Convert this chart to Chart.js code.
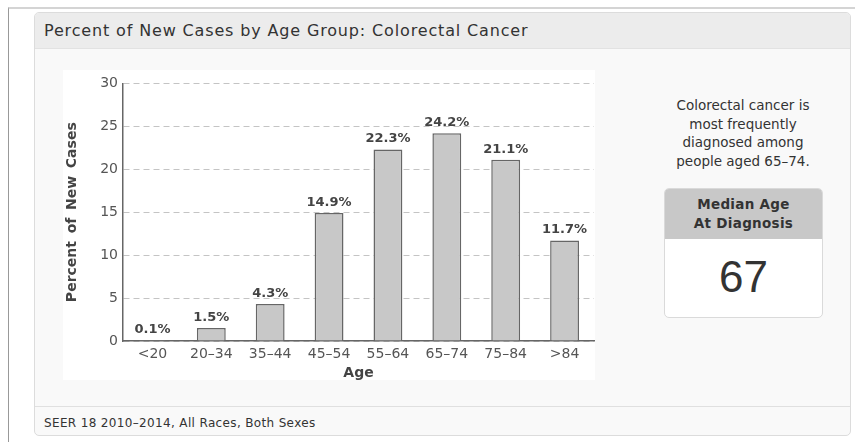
<!DOCTYPE html>
<html>
<head>
<meta charset="utf-8">
<script src="https://cdn.jsdelivr.net/npm/chart.js@4"></script>
<style>
  html, body { margin: 0; padding: 0; background: #fff; width: 855px; height: 442px; overflow: hidden; }
  body { position: relative; font-family: "DejaVu Sans", sans-serif; color: #333; }
  .frame { position: absolute; left: 8px; top: 7px; width: 860px; height: 460px;
    border-top: 2px solid #d4d4d4; border-left: 1px solid #999; }
  .panel { position: absolute; left: 34px; top: 12px; width: 815px; height: 422px;
    border: 1px solid #dcdcdc; border-radius: 5px; background: #f9f9f9; overflow: hidden; }
  .head { position: absolute; left: 0; top: 0; right: 0; height: 35px; background: #ececec;
    border-bottom: 1px solid #e2e2e2; }
  .head span { position: absolute; left: 9px; top: 8px; font-size: 16px; letter-spacing: 0.85px; color: #333; }
  .foot { position: absolute; left: 0; right: 0; top: 393px; bottom: 0; border-top: 1px solid #e0e0e0; }
  .foot span { position: absolute; left: 9px; top: 9px; font-size: 12px; letter-spacing: 0.35px; color: #333; }
  .chartbox { position: absolute; left: 63px; top: 70px; width: 532px; height: 310px; background: #fff; }
  .note { position: absolute; left: 660px; top: 96px; width: 166px; text-align: center;
    font-size: 13.5px; line-height: 18.5px; color: #333; }
  .median { position: absolute; left: 664px; top: 188px; width: 157px; height: 128px;
    border: 1px solid #dadada; border-radius: 5px; background: #fff; overflow: hidden; }
  .median .mh { height: 50px; background: #c8c8c8; text-align: center; font-weight: bold;
    font-size: 13.5px; line-height: 19px; color: #333; padding-top: 6px; box-sizing: border-box;
    letter-spacing: 0.3px; }
  .median .mv { text-align: center; font-family: "Liberation Sans", sans-serif; font-size: 44px;
    line-height: 76px; color: #333; }
</style>
</head>
<body>
<div class="frame"></div>
<div class="panel">
  <div class="head"><span>Percent of New Cases by Age Group: Colorectal Cancer</span></div>
  <div class="foot"><span>SEER 18 2010–2014, All Races, Both Sexes</span></div>
</div>
<div class="chartbox"><canvas id="c"></canvas></div>
<div class="note">Colorectal cancer is<br>most frequently<br>diagnosed among<br>people aged 65–74.</div>
<div class="median">
  <div class="mh">Median Age<br>At Diagnosis</div>
  <div class="mv">67</div>
</div>
<script>
const ageGroups = ["<20", "20–34", "35–44", "45–54", "55–64", "65–74", "75–84", ">84"];
const percentNewCases = [0.1, 1.5, 4.3, 14.9, 22.3, 24.2, 21.1, 11.7];
const yTicks = [0, 5, 10, 15, 20, 25, 30];

const FONT = "DejaVu Sans";

// percent labels over each bar
const barLabels = {
  id: "barLabels",
  afterDatasetsDraw(chart) {
    const { ctx } = chart;
    const meta = chart.getDatasetMeta(0);
    ctx.save();
    ctx.font = "bold 13px '" + FONT + "'";
    ctx.fillStyle = "#444";
    ctx.textAlign = "center";
    ctx.textBaseline = "middle";
    meta.data.forEach((bar, i) => {
      ctx.fillText(percentNewCases[i] + "%", bar.x, bar.y - 10.5);
    });
    ctx.restore();
  },
};

new Chart(document.getElementById("c"), {
  type: "bar",
  data: {
    labels: ageGroups,
    datasets: [
      {
        data: percentNewCases,
        backgroundColor: "#c8c8c8",
        borderColor: "#666",
        borderWidth: 1.5,
        barPercentage: 0.49,
        categoryPercentage: 1,
      },
    ],
  },
  options: {
    responsive: true,
    maintainAspectRatio: false,
    animation: false,
    layout: { padding: { top: 9, right: 1, left: 0, bottom: 0 } },
    plugins: { legend: { display: false }, tooltip: { enabled: false } },
    scales: {
      x: {
        afterFit: (s) => { s.height = 39; },
        grid: { display: false, drawTicks: false },
        border: { color: "#666", width: 1.5 },
        ticks: { color: "#555", padding: 5, font: { family: FONT, size: 14 } },
        title: { display: true, text: "Age", color: "#444", padding: 0,
          font: { family: FONT, size: 14, weight: "bold", lineHeight: 1 } },
      },
      y: {
        min: 0,
        max: 30,
        afterFit: (s) => { s.width = 60; },
        afterBuildTicks: (s) => { s.ticks = yTicks.map((v) => ({ value: v })); },
        grid: { color: "#c4c4c4", lineWidth: 1, drawTicks: false },
        border: { color: "#666", width: 1.5, dash: [6, 4] },
        ticks: { color: "#555", padding: 5, font: { family: FONT, size: 14 } },
        title: { display: true, text: "Percent\u2009 of\u2009 New\u2009 Cases", color: "#444", padding: { top: 2 },
          font: { family: FONT, size: 14, weight: "bold", lineHeight: 1 } },
      },
    },
  },
  plugins: [barLabels],
});
</script>
</body>
</html>
